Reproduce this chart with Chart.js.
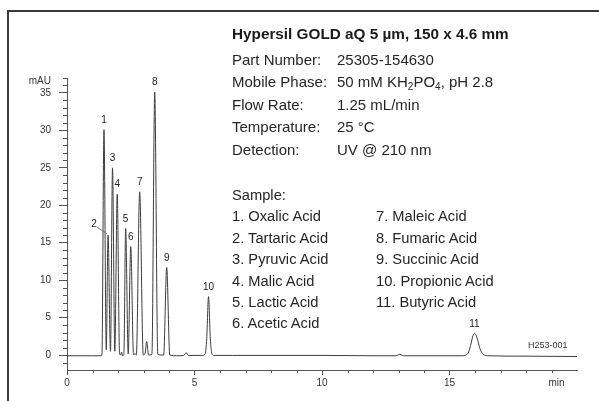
<!DOCTYPE html>
<html>
<head>
<meta charset="utf-8">
<script src="https://cdn.jsdelivr.net/npm/chart.js@4.4.0/dist/chart.umd.min.js"></script>
<style>
body { margin: 0; background: #fff; }
#wrap { position: relative; width: 599px; height: 401px; overflow: hidden; font-family: 'Liberation Sans', Arial, sans-serif; color: #262626; }
#frame { position: absolute; left: 7px; top: 10px; width: 620px; height: 420px; border-top: 2px solid #3a3a3a; border-left: 2px solid #3a3a3a; }
canvas { position: absolute; left: 0; top: 0; }
.txt { position: absolute; white-space: nowrap; }
#title { left: 232px; top: 26px; font-size: 15.3px; font-weight: bold; line-height: 15.3px; color: #1a1a1a; }
#info { left: 232px; top: 49px; font-size: 15px; line-height: 22.4px; }
#info .lbl { display: inline-block; width: 105px; }
sub { font-size: 10px; line-height: 0; vertical-align: -3px; }
#sample1 { left: 232px; top: 185px; font-size: 14.7px; line-height: 21.4px; }
#sample2 { left: 376px; top: 206.4px; font-size: 14.7px; line-height: 21.4px; }
#code { left: 528px; top: 340.6px; font-size: 9px; line-height: 9px; color: #333; }
</style>
</head>
<body>
<div id="wrap">
  <canvas id="chrom" width="599" height="401"></canvas>
  <div id="frame"></div>
  <div class="txt" id="title">Hypersil GOLD aQ 5 µm, 150 x 4.6 mm</div>
  <div class="txt" id="info"></div>
  <div class="txt" id="sample1"></div>
  <div class="txt" id="sample2"></div>
  <div class="txt" id="code">H253-001</div>
</div>
<script>
// detector trace (min, mAU)
const traceTimes = [0, 1.0, 1.33, 1.37, 1.45, 1.54, 1.61, 1.705, 1.785, 1.875, 1.97, 2.06, 2.10, 2.14, 2.18, 2.23,
    2.30, 2.40, 2.50, 2.61, 2.66, 2.72, 2.85, 2.99, 3.06, 3.125, 3.20, 3.33, 3.44, 3.56, 3.66, 3.79, 3.91, 4.03,
    4.3, 4.58, 4.67, 4.77, 5.3, 5.42, 5.48, 5.55, 5.62, 5.68, 5.76, 6.5, 8, 10, 12, 12.9, 13.05, 13.2, 15.5,
    15.65, 15.75, 15.85, 15.92, 15.98, 16.05, 16.12, 16.22, 16.35, 16.5, 18, 20];
const traceSignal = [-0.1, -0.1, -0.1, 0.0, 30.1, 0.7, 16.0, 0.5, 25.0, 0.5, 21.5, 0.2, 0.0, 0.4, -0.1, 0.1,
    16.9, 0.15, 14.5, 0.0, 0.2, 0.0, 21.8, 0.0, 0.2, 1.8, 0.0, 0.1, 35.1, 0.1, 0.0, 0.0, 11.7, 0.0,
    -0.1, -0.05, 0.3, -0.05, -0.05, 0.2, 2.2, 7.8, 2.2, 0.2, -0.05, -0.05, -0.05, -0.05, -0.1, -0.1, 0.1, -0.1, -0.1,
    0.0, 0.4, 1.6, 2.6, 2.9, 2.6, 1.8, 0.6, 0.05, -0.1, -0.15, -0.2];

const peakNumbers = ['1', '2', '3', '4', '5', '6', '7', '8', '9', '10', '11'];
const peakTimes = [1.45, 1.61, 1.785, 1.97, 2.30, 2.50, 2.85, 3.44, 3.91, 5.55, 15.98];
const peakHeights = [30.1, 16.0, 25.0, 21.5, 16.9, 14.5, 21.8, 35.1, 11.7, 7.8, 2.9];

const yTickValues = [0, 5, 10, 15, 20, 25, 30, 35];
const xTickValues = [0, 5, 10, 15];

const infoLabels = ['Part Number:', 'Mobile Phase:', 'Flow Rate:', 'Temperature:', 'Detection:'];
const infoValues = ['25305-154630', '50 mM KH<sub>2</sub>PO<sub>4</sub>, pH 2.8', '1.25 mL/min', '25 °C', 'UV @ 210 nm'];
const sampleNames = ['Oxalic Acid', 'Tartaric Acid', 'Pyruvic Acid', 'Malic Acid', 'Lactic Acid', 'Acetic Acid',
    'Maleic Acid', 'Fumaric Acid', 'Succinic Acid', 'Propionic Acid', 'Butyric Acid'];

const FONT = "'Liberation Sans', Arial, sans-serif";
const axisColor = '#555';

document.getElementById('info').innerHTML = infoLabels
    .map((l, i) => `<div><span class="lbl">${l}</span>${infoValues[i]}</div>`).join('');
document.getElementById('sample1').innerHTML = '<div>Sample:</div>' + sampleNames.slice(0, 6)
    .map((n, i) => `<div>${i + 1}. ${n}</div>`).join('');
document.getElementById('sample2').innerHTML = sampleNames.slice(6)
    .map((n, i) => `<div>${i + 7}. ${n}</div>`).join('');

const chromMarks = {
    id: 'chromMarks',
    afterDraw(chart) {
        const { ctx, scales: { x, y } } = chart;
        ctx.save();
        // minor ticks
        ctx.strokeStyle = axisColor;
        ctx.lineWidth = 1;
        ctx.beginPath();
        for (let v = -1; v <= 37; v++) {
            if (yTickValues.includes(v)) continue;
            const py = Math.round(y.getPixelForValue(v)) + 0.5;
            ctx.moveTo(x.left - 4, py);
            ctx.lineTo(x.left, py);
        }
        for (let v = 1; v < 20; v++) {
            if (xTickValues.includes(v)) continue;
            const px = Math.round(x.getPixelForValue(v)) + 0.5;
            ctx.moveTo(px, y.bottom);
            ctx.lineTo(px, y.bottom + 3);
        }
        ctx.stroke();

        // peak numbers
        ctx.fillStyle = '#222';
        ctx.font = '10px ' + FONT;
        ctx.textAlign = 'center';
        ctx.textBaseline = 'middle';
        peakNumbers.forEach((n, i) => {
            const px = x.getPixelForValue(peakTimes[i]);
            const py = y.getPixelForValue(peakHeights[i]);
            if (n === '2') {
                ctx.fillText(n, px - 14, py - 10.5);
                ctx.strokeStyle = '#777';
                ctx.beginPath();
                ctx.moveTo(px - 11, py - 8);
                ctx.lineTo(px - 1, py - 1.5);
                ctx.stroke();
            } else {
                ctx.fillText(n, px, py - 9.5);
            }
        });

        // axis units
        ctx.fillStyle = '#333';
        ctx.textAlign = 'right';
        ctx.fillText('mAU', x.left - 16, y.getPixelForValue(37) + 3.3);
        ctx.textAlign = 'center';
        ctx.fillText('min', x.getPixelForValue(19.2), y.bottom + 13.5);
        ctx.restore();
    }
};

new Chart(document.getElementById('chrom').getContext('2d'), {
    type: 'line',
    data: {
        datasets: [{
            data: traceTimes.map((t, i) => ({ x: t, y: traceSignal[i] })),
            borderColor: '#3c3c3c',
            borderWidth: 1,
            pointRadius: 0,
            cubicInterpolationMode: 'monotone',
            fill: false
        }]
    },
    options: {
        responsive: false,
        animation: false,
        devicePixelRatio: 1,
        layout: { padding: { top: 78, right: 22, left: 0, bottom: 0 } },
        plugins: { legend: { display: false }, tooltip: { enabled: false } },
        scales: {
            x: {
                type: 'linear', min: 0, max: 20,
                afterBuildTicks: s => { s.ticks = xTickValues.map(v => ({ value: v })); },
                afterFit: s => { s.height = 31; },
                grid: { drawOnChartArea: false, tickLength: 5, color: axisColor },
                border: { color: axisColor },
                ticks: { font: { family: FONT, size: 10 }, color: '#333', padding: 2, maxRotation: 0, autoSkip: false }
            },
            y: {
                type: 'linear', min: -2, max: 37,
                afterBuildTicks: s => { s.ticks = yTickValues.map(v => ({ value: v })); },
                afterFit: s => { s.width = 67; },
                grid: { drawOnChartArea: false, tickLength: 8, color: axisColor },
                border: { color: axisColor },
                ticks: { font: { family: FONT, size: 10 }, color: '#333', padding: 8 }
            }
        }
    },
    plugins: [chromMarks]
});
</script>
</body>
</html>
